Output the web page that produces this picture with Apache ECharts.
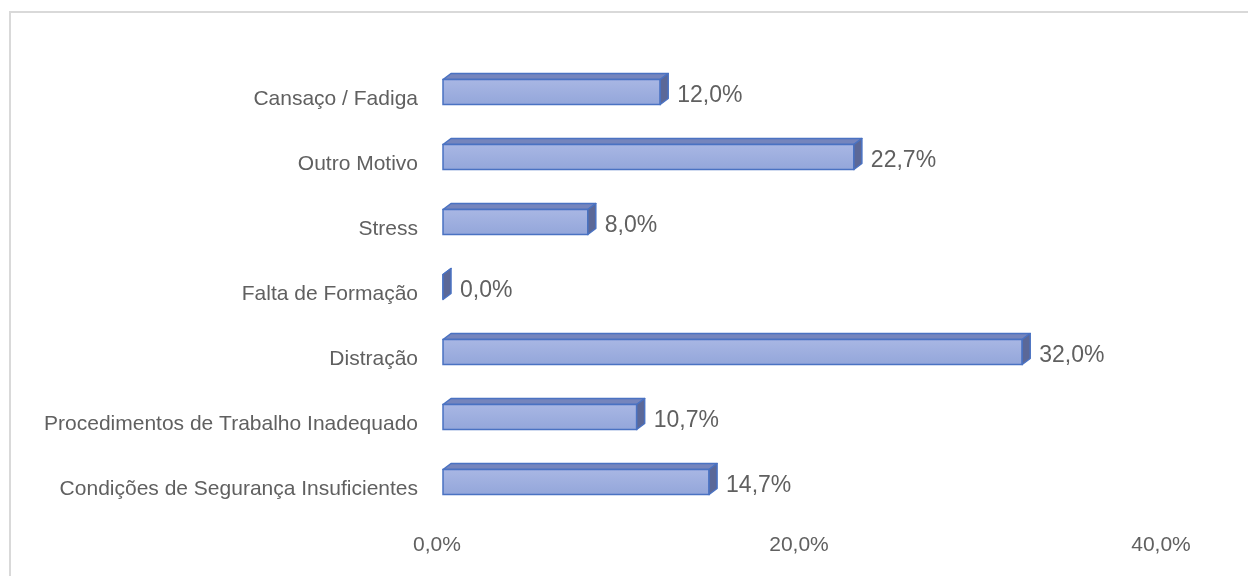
<!DOCTYPE html>
<html>
<head>
<meta charset="utf-8">
<script src="https://cdn.jsdelivr.net/npm/echarts@6/dist/echarts.min.js"></script>
<style>
  html, body { margin: 0; padding: 0; background: #fff; }
  #chart { width: 1248px; height: 576px; }
</style>
</head>
<body>
<div id="chart"></div>
<script>
// top to bottom, as in the picture
const categories = [
  "Cansaço / Fadiga",
  "Outro Motivo",
  "Stress",
  "Falta de Formação",
  "Distração",
  "Procedimentos de Trabalho Inadequado",
  "Condições de Segurança Insuficientes"
];
const values = [12.0, 22.7, 8.0, 0.0, 32.0, 10.7, 14.7];
const axisTicks = [0, 20, 40];

const FONT = "'Liberation Sans', Arial, sans-serif";
const TEXT = "#606060";

function pct(v) {
  return v.toFixed(1).replace(".", ",") + "%";
}

// 3D-look bar: front face, top face, right side face
function renderBar(params, api) {
  const value = api.value(0);
  const cat = api.value(1);
  const start = api.coord([0, cat]);
  const end = api.coord([value, cat]);
  const h = api.size([0, 1])[1] * 0.385;
  const dx = 8;
  const dy = -6;
  const cy = start[1] - 7;
  const y0 = cy - h / 2;
  const y1 = cy + h / 2;
  const x0 = start[0];
  const x1 = end[0];

  return {
    type: "group",
    children: [
      {
        type: "polygon",
        shape: { points: [[x0, y0], [x0 + dx, y0 + dy], [x1 + dx, y0 + dy], [x1, y0]] },
        style: { fill: "#7585bd", stroke: "#4a72c2", lineWidth: 1.5, lineJoin: "round" }
      },
      {
        type: "rect",
        shape: { x: x0, y: y0, width: x1 - x0, height: h },
        style: {
          fill: new echarts.graphic.LinearGradient(0, 0, 0, 1, [
            { offset: 0, color: "#a9b7e4" },
            { offset: 1, color: "#93a6da" }
          ]),
          stroke: "#4a72c2",
          lineWidth: 1.5
        }
      },
      {
        type: "polygon",
        shape: { points: [[x1, y0], [x1 + dx, y0 + dy], [x1 + dx, y1 + dy], [x1, y1]] },
        style: { fill: "#5b6898", stroke: "#4a72c2", lineWidth: 1.5, lineJoin: "round" }
      },
      {
        type: "text",
        style: {
          x: x1 + dx + 9,
          y: start[1] - 3,
          text: pct(value),
          fill: TEXT,
          font: "23px " + FONT,
          verticalAlign: "middle",
          align: "left"
        }
      }
    ]
  };
}

const chart = echarts.init(document.getElementById("chart"), null, { renderer: "canvas" });

chart.setOption({
  backgroundColor: "#fff",
  animation: false,
  graphic: [
    {
      type: "rect",
      shape: { x: 10, y: 12, width: 1260, height: 600 },
      style: { fill: null, stroke: "#d9d9d9", lineWidth: 2 },
      silent: true
    }
  ],
  grid: { left: 443, right: 81, top: 66.5, bottom: 54.5 },
  xAxis: {
    type: "value",
    min: axisTicks[0],
    max: axisTicks[axisTicks.length - 1],
    interval: axisTicks[1] - axisTicks[0],
    axisLine: { show: false },
    axisTick: { show: false },
    splitLine: { show: false },
    axisLabel: {
      color: TEXT,
      fontSize: 21,
      fontFamily: FONT,
      margin: 13,
      padding: [0, 12, 0, 0],
      formatter: (v) => pct(v)
    }
  },
  yAxis: {
    type: "category",
    data: categories,
    inverse: true,
    axisLine: { show: false },
    axisTick: { show: false },
    splitLine: { show: false },
    axisLabel: {
      color: TEXT,
      fontSize: 21,
      fontFamily: FONT,
      margin: 25
    }
  },
  series: [
    {
      type: "custom",
      renderItem: renderBar,
      encode: { x: 0, y: 1 },
      data: values.map((v, i) => [v, i]),
      clip: false
    }
  ]
});
</script>
</body>
</html>
